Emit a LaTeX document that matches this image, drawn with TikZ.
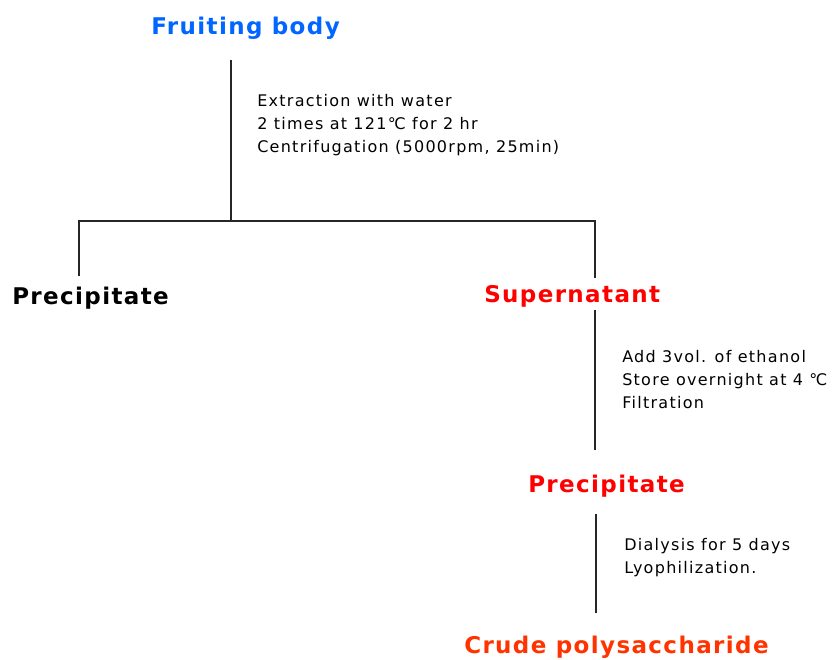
\documentclass[tikz,border=0pt]{standalone}
\usepackage{fontspec}
\setmainfont{DejaVu Sans}
\newfontfamily\headfont{DejaVu Sans}[LetterSpace=6]
\newfontfamily\notefont{DejaVu Sans}[LetterSpace=8]
\definecolor{fruitblue}{HTML}{0066FF}
\definecolor{stepred}{HTML}{FF0000}
\definecolor{crudered}{HTML}{FF3300}
\begin{document}
\begin{tikzpicture}[x=0.75pt, y=-0.75pt,
  every node/.style={inner sep=0pt},
  head/.style={font=\headfont\bfseries\fontsize{17.25pt}{20pt}\selectfont, anchor=base west},
  note/.style={font=\notefont\fontsize{12pt}{16.9pt}\selectfont, align=left, anchor=base west},
  link/.style={line width=1pt, draw=black!85}]
  \useasboundingbox (0,0) rectangle (833,660);
  % stages
  \node[head, text=fruitblue] (fruit) at (151,35) {Fruiting body};
  \node[head] (prec1) at (12,304) {Precipitate};
  \node[head, text=stepred] (super) at (484,302) {Supernatant};
  \node[head, text=stepred] (prec2) at (528,492) {Precipitate};
  \node[head, text=crudered] (crude) at (464,653) {Crude polysaccharide};
  % conditions (base = last line)
  \node[note] (extract) at (257,152) {Extraction with water\\2 times at 121℃ for 2 hr\\Centrifugation (5000rpm, 25min)};
  \node[note] (ethanol) at (622,408) {Add 3vol. of ethanol\\Store overnight at 4 ℃\\Filtration};
  \node[note] (dialysis) at (624,573) {Dialysis for 5 days\\Lyophilization.};
  % connectors
  \coordinate (f1) at (231,60);
  \coordinate (split) at (231,221);
  \coordinate (p1) at (79,276);
  \coordinate (s1) at (595,278);
  \coordinate (s2) at (595,310);
  \coordinate (e1) at (595,450);
  \coordinate (d1) at (596,514);
  \coordinate (d2) at (596,613);
  \draw[link] (f1) -- (split);
  \draw[link] (p1) |- (split) -| (s1);
  \draw[link] (s2) -- (e1);
  \draw[link] (d1) -- (d2);
\end{tikzpicture}
\end{document}
